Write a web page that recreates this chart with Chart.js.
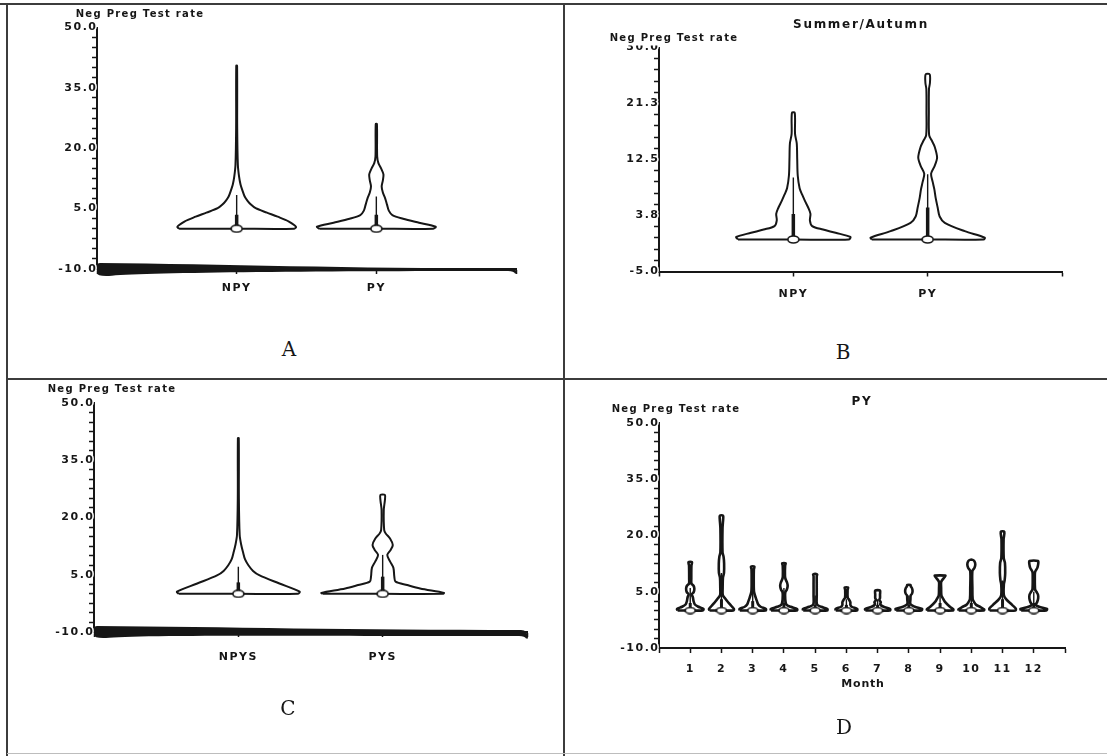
<!DOCTYPE html>
<html>
<head>
<meta charset="utf-8">
<script src="https://cdn.jsdelivr.net/npm/chart.js@4/dist/chart.umd.min.js"></script>
<style>
  html, body { margin: 0; padding: 0; background: #fff; }
  #page { position: relative; width: 1107px; height: 756px; overflow: hidden; background: #fff; }
  #page canvas { position: absolute; }
  .rule { position: absolute; background: #3c3c3c; }
  .txt { position: absolute; transform: translate(-50%, -50%); white-space: nowrap; line-height: 1;
         font-family: "DejaVu Sans", "Liberation Sans", sans-serif; font-weight: bold; color: #161616; }
  .cap { font-size: 10px; letter-spacing: 1.3px; }
  .ttl { font-size: 12px; letter-spacing: 1.7px; }
  .lab { font-size: 11px; letter-spacing: 0.8px; }
  .letter { font-family: "DejaVu Serif", "Liberation Serif", serif; font-weight: normal; font-size: 20px; }
  .mask { background: #fff; padding: 0 2px 3px 0; }
</style>
</head>
<body>
<div id="page">
  <canvas id="chartA" width="560" height="320" style="left:0;top:0"></canvas>
  <canvas id="chartB" width="540" height="320" style="left:565px;top:0"></canvas>
  <canvas id="chartC" width="560" height="320" style="left:0;top:380px"></canvas>
  <canvas id="chartD" width="540" height="330" style="left:565px;top:382px"></canvas>

  <div class="rule" style="left:0;top:3px;width:1107px;height:2px"></div>
  <div class="rule" style="left:6px;top:4px;width:2px;height:752px"></div>
  <div class="rule" style="left:563px;top:4px;width:2px;height:752px"></div>
  <div class="rule" style="left:7px;top:378px;width:1100px;height:2px"></div>
  <div class="rule" style="left:7px;top:753px;width:1100px;height:1px;background:#bdbdbd"></div>

  <div class="txt cap" style="left:140px;top:14px">Neg Preg Test rate</div>
  <div class="txt ttl" style="left:861px;top:24px">Summer/Autumn</div>
  <div class="txt cap mask" style="left:675px;top:38.5px">Neg Preg Test rate</div>
  <div class="txt cap" style="left:112px;top:389px">Neg Preg Test rate</div>
  <div class="txt ttl" style="left:862px;top:401px">PY</div>
  <div class="txt cap" style="left:676px;top:409px">Neg Preg Test rate</div>
  <div class="txt lab" style="left:863px;top:683px">Month</div>

  <div class="txt letter" style="left:289px;top:349px">A</div>
  <div class="txt letter" style="left:843px;top:352px">B</div>
  <div class="txt letter" style="left:288px;top:708px">C</div>
  <div class="txt letter" style="left:844px;top:727px">D</div>
</div>

<script>
// ---------------- data ----------------
// Violin profiles: rate levels and the relative kernel density at each level
// (1 = widest point of that violin). Box stats: median, upper quartile, upper adjacent value.

// Panel A - all years
const catsA = ['NPY', 'PY'];
const yTicksA = [-10, 5, 20, 35, 50];
const levNpyA = [0, 0.5, 1.8, 3, 4, 5.1, 6, 7, 8, 9.6, 11, 13, 15.9, 25, 40.5];
const denNpyA = [0.97, 1, 0.88, 0.69, 0.51, 0.32, 0.24, 0.18, 0.135, 0.095, 0.065, 0.04, 0.02, 0.009, 0.007];
const levPyA = [0, 0.5, 1.5, 2.5, 3.4, 4.5, 6, 7.5, 9, 10.5, 12, 13.5, 15, 16.3, 18, 26];
const denPyA = [0.96, 1, 0.72, 0.45, 0.27, 0.21, 0.18, 0.15, 0.11, 0.09, 0.11, 0.12, 0.08, 0.035, 0.014, 0.01];
const medA = [0, 0];
const q3A = [3.5, 3.5];
const hiA = [8.4, 8.0];

// Panel B - Summer/Autumn
const catsB = ['NPY', 'PY'];
const yTicksB = [-5, 3.75, 12.5, 21.25, 30];
const levNpyB = [0, 0.4, 1.05, 1.55, 2.1, 3, 4, 5, 6, 7, 8, 10, 12.5, 15, 16.5, 19.8];
const denNpyB = [0.97, 1, 0.74, 0.52, 0.33, 0.29, 0.3, 0.26, 0.205, 0.155, 0.11, 0.077, 0.068, 0.06, 0.03, 0.025];
const levPyB = [0, 0.3, 1.3, 2.6, 3.6, 5, 6.5, 7.8, 9, 10.3, 11.5, 12.8, 14.5, 15.5, 16.3, 20, 23.5, 24.5, 25.8];
const denPyB = [0.98, 1, 0.65, 0.3, 0.21, 0.175, 0.14, 0.118, 0.088, 0.06, 0.123, 0.165, 0.123, 0.07, 0.026, 0.021, 0.023, 0.04, 0.035];
const medB = [0, 0];
const q3B = [4, 5];
const hiB = [9.7, 10.2];

// Panel C - seasonal groups
const catsC = ['NPYS', 'PYS'];
const yTicksC = [-10, 5, 20, 35, 50];
const levNpyC = [0, 0.55, 2.7, 4.9, 6, 7.5, 9, 11, 13, 15.4, 25, 40.8];
const denNpyC = [0.97, 1, 0.67, 0.34, 0.24, 0.164, 0.11, 0.075, 0.045, 0.022, 0.009, 0.007];
const levPyC = [0, 0.25, 1.4, 2.3, 3.2, 4.5, 6.8, 8.5, 10.2, 11.5, 12.8, 14.5, 15.8, 16.7, 22, 24.5, 25.9];
const denPyC = [0.98, 1, 0.61, 0.4, 0.21, 0.19, 0.175, 0.12, 0.075, 0.13, 0.165, 0.12, 0.05, 0.025, 0.018, 0.036, 0.036];
const medC = [0, 0];
const q3C = [3, 4.5];
const hiC = [7.1, 10.2];

// Panel D - PY by month
const months = ['1', '2', '3', '4', '5', '6', '7', '8', '9', '10', '11', '12'];
const yTicksD = [-10, 5, 20, 35, 50];
const monthLev = [
  [0, 0.4, 1, 1.6, 2.5, 3.5, 4.3, 4.9, 5.8, 6.6, 7.2, 8.5, 12, 12.9],
  [0, 0.4, 1.2, 2.2, 3.2, 4.1, 6, 8.7, 10, 12.5, 14.3, 15.5, 22, 24.5, 25.3],
  [0, 0.4, 1, 1.6, 2.5, 3.5, 5, 8, 11, 11.7],
  [0, 0.4, 1, 1.6, 3, 4.8, 5.6, 6.5, 7.4, 8.4, 9.2, 12, 12.6],
  [0, 0.4, 1, 1.6, 4, 7, 9.2, 9.65],
  [0, 0.4, 1, 1.5, 2.2, 2.9, 3.4, 5.5, 6.1],
  [0, 0.4, 1, 1.6, 2.2, 2.8, 3.3, 4.3, 5.3],
  [0, 0.4, 1, 1.7, 3, 4, 4.5, 5.2, 5.9, 6.5, 6.8],
  [0, 0.3, 1, 2.3, 3.3, 4, 6, 7.6, 8.3, 9, 9.3],
  [0, 0.3, 0.9, 1.5, 2.3, 3.1, 6, 10.5, 11.4, 12.3, 13.1, 13.5],
  [0, 0.5, 1.5, 2.9, 4.1, 7, 8.1, 10, 12.7, 14, 19, 21],
  [0, 0.4, 1, 1.5, 2.2, 3.2, 4.2, 5, 5.6, 9, 10.3, 11.3, 12.3, 13.2]
];
const monthDen = [
  [0.95, 1, 0.62, 0.35, 0.25, 0.2, 0.12, 0.26, 0.31, 0.25, 0.09, 0.08, 0.09, 0.13],
  [0.9, 0.94, 0.75, 0.5, 0.28, 0.1, 0.09, 0.11, 0.19, 0.2, 0.16, 0.08, 0.08, 0.13, 0.12],
  [0.97, 1, 0.6, 0.42, 0.32, 0.22, 0.1, 0.08, 0.09, 0.13],
  [0.97, 1, 0.5, 0.18, 0.1, 0.1, 0.22, 0.28, 0.24, 0.12, 0.08, 0.09, 0.13],
  [0.9, 0.93, 0.45, 0.14, 0.12, 0.12, 0.12, 0.15],
  [0.8, 0.82, 0.4, 0.3, 0.3, 0.2, 0.1, 0.09, 0.13],
  [0.92, 0.95, 0.45, 0.2, 0.24, 0.13, 0.18, 0.18, 0.18],
  [0.95, 1, 0.45, 0.12, 0.12, 0.14, 0.24, 0.28, 0.24, 0.14, 0.12],
  [0.97, 1, 0.74, 0.37, 0.2, 0.1, 0.08, 0.08, 0.2, 0.36, 0.4],
  [0.95, 0.97, 0.7, 0.37, 0.2, 0.1, 0.08, 0.08, 0.24, 0.3, 0.24, 0.1],
  [0.97, 1, 0.72, 0.3, 0.1, 0.1, 0.16, 0.2, 0.18, 0.09, 0.08, 0.13],
  [0.95, 1, 0.4, 0.15, 0.25, 0.33, 0.32, 0.2, 0.1, 0.08, 0.1, 0.26, 0.33, 0.32]
];
const medD = [0, 0, 0, 0, 0, 0, 0, 0, 0, 0, 0, 0];
const q3D = [2, 3, 2.5, 2, 1.5, 1.5, 1.5, 1.5, 2, 2, 3, 2];
const hiD = [6, 10, 5, 6, 4, 3, 3, 4, 4, 4, 8, 5];

// ---------------- drawing helpers ----------------
const ink = '#161616';
const HALF = 0.425;          // half-width of a violin at density 1, in category units
const FONT = { family: '"DejaVu Sans", "Liberation Sans", sans-serif', weight: 'bold', size: 11 };

// hollow ellipse used as the median marker
function ellipseMark(w, h) {
  const c = document.createElement('canvas');
  c.width = w; c.height = h;
  const g = c.getContext('2d');
  g.beginPath();
  g.ellipse(w / 2, h / 2, w / 2 - 1, h / 2 - 1, 0, 0, Math.PI * 2);
  g.fillStyle = '#fff';
  g.fill();
  g.lineWidth = 1.6;
  g.strokeStyle = ink;
  g.stroke();
  return c;
}

// closed outline: up the left side, down the right side, flat across the bottom
function outline(center, levels, dens) {
  const left = levels.map((v, i) => ({ x: center - dens[i] * HALF, y: v }));
  const right = levels.map((v, i) => ({ x: center + dens[i] * HALF, y: v })).reverse();
  return left.concat(right, [{ x: center, y: levels[0] }, left[0]]);
}

function violinSets(center, levels, dens, med, q3, hi, look) {
  return [
    { data: outline(center, levels, dens), showLine: true, borderColor: ink, borderWidth: look.lw,
      pointRadius: 0, tension: 0.3, order: 3 },
    { data: [{ x: center, y: med }, { x: center, y: hi }], showLine: true, borderColor: ink,
      borderWidth: 1.4, pointRadius: 0, order: 2 },
    { data: [{ x: center, y: med }, { x: center, y: q3 }], showLine: true, borderColor: ink,
      borderWidth: look.iqr, pointRadius: 0, order: 1 },
    { data: [{ x: center, y: med }], showLine: false, pointStyle: look.mark, pointRadius: 5, order: 0 }
  ];
}

function yAxis(majors, sub) {
  return {
    type: 'linear',
    min: majors[0],
    max: majors[majors.length - 1],
    afterBuildTicks(scale) {
      const t = [];
      for (let i = 0; i < majors.length - 1; i++) {
        const step = (majors[i + 1] - majors[i]) / sub;
        for (let k = 0; k < sub; k++) t.push({ value: majors[i] + k * step });
      }
      t.push({ value: majors[majors.length - 1] });
      scale.ticks = t;
    },
    afterFit(scale) { scale.width = 60; },
    ticks: {
      autoSkip: false,
      padding: -5.5,
      color: ink,
      font: FONT,
      textStrokeColor: '#fff',
      textStrokeWidth: 3,
      callback: (v, i) => (i % sub === 0 ? v.toFixed(1) : '')
    },
    grid: { drawOnChartArea: false, drawTicks: true, tickLength: 5, tickColor: ink, tickWidth: 1.5, color: ink },
    border: { display: true, color: ink, width: 2 }
  };
}

function xAxis(cats, height, pad) {
  return {
    type: 'linear',
    min: 0,
    max: cats.length + 1,
    afterBuildTicks(scale) {
      const t = [];
      for (let i = 0; i <= cats.length + 1; i++) t.push({ value: i });
      scale.ticks = t;
    },
    afterFit(scale) { scale.height = height; },
    ticks: {
      autoSkip: false,
      maxRotation: 0,
      padding: pad,
      color: ink,
      font: FONT,
      callback: (v) => (v >= 1 && v <= cats.length ? cats[v - 1] : '')
    },
    grid: { drawOnChartArea: false, drawTicks: true, tickLength: 5, tickColor: ink, tickWidth: 1.5, color: ink },
    border: { display: true, color: ink, width: 2 }
  };
}

// wide tracking for the canvas tick labels
const spacing = {
  id: 'spacing',
  beforeDraw(chart, args, opts) { chart.ctx.letterSpacing = opts.value || '0px'; },
  afterDraw(chart) { chart.ctx.letterSpacing = '0px'; }
};

// heavy, tapering baseline used on the first and third panels
const wedge = {
  id: 'wedge',
  afterDraw(chart, args, o) {
    if (!o.on) return;
    const { ctx } = chart;
    const { left, right, bottom } = chart.chartArea;
    const w = right - left;
    ctx.save();
    ctx.fillStyle = ink;
    ctx.beginPath();
    ctx.moveTo(left + 3, bottom - o.tl);
    ctx.bezierCurveTo(left + w * 0.3, bottom - o.tl + 1, left + w * 0.6, bottom - o.tr, right - 6, bottom - o.tr);
    ctx.quadraticCurveTo(right + 1, bottom - o.tr, right + 1, bottom + o.br + 2.5);
    ctx.lineTo(right - 1, bottom + o.br + 2.5);
    ctx.quadraticCurveTo(right - 2, bottom + o.br, right - 8, bottom + o.br);
    ctx.bezierCurveTo(left + w * 0.5, bottom + o.br, left + 40, bottom + o.bl - 3.5, left + 12, bottom + o.bl);
    ctx.quadraticCurveTo(left, bottom + o.bl + 0.5, left, bottom + o.bl - 3);
    ctx.lineTo(left, bottom - o.tl + 3);
    ctx.quadraticCurveTo(left, bottom - o.tl, left + 3, bottom - o.tl);
    ctx.closePath();
    ctx.fill();
    ctx.restore();
  }
};

function makeChart(id, cfg) {
  return new Chart(document.getElementById(id), {
    type: 'scatter',
    data: { datasets: cfg.datasets },
    options: {
      responsive: false,
      animation: false,
      devicePixelRatio: 1,
      layout: { padding: cfg.pad },
      plugins: {
        legend: { display: false },
        tooltip: { enabled: false },
        spacing: { value: '1.5px' },
        wedge: cfg.wedge || { on: false }
      },
      scales: { x: cfg.x, y: cfg.y }
    },
    plugins: [spacing, wedge]
  });
}

const lookBig = { lw: 2, iqr: 3.5, mark: ellipseMark(13, 9) };
const lookSmall = { lw: 2.6, iqr: 3, mark: ellipseMark(12, 8) };

// Panel A
makeChart('chartA', {
  pad: { left: 37, top: 27.5, right: 44, bottom: 21 },
  datasets: [
    ...violinSets(1, levNpyA, denNpyA, medA[0], q3A[0], hiA[0], lookBig),
    ...violinSets(2, levPyA, denPyA, medA[1], q3A[1], hiA[1], lookBig)
  ],
  x: xAxis(catsA, 30, 7.4),
  y: yAxis(yTicksA, 6),
  wedge: { on: true, tl: 6, tr: 0.5, bl: 7, br: 2 }
});

// Panel B
makeChart('chartB', {
  pad: { left: 34, top: 47.5, right: 43, bottom: 18.5 },
  datasets: [
    ...violinSets(1, levNpyB, denNpyB, medB[0], q3B[0], hiB[0], lookBig),
    ...violinSets(2, levPyB, denPyB, medB[1], q3B[1], hiB[1], lookBig)
  ],
  x: xAxis(catsB, 30, 10.9),
  y: yAxis(yTicksB, 5)
});

// Panel C
makeChart('chartC', {
  pad: { left: 34, top: 23, right: 33, bottom: 28 },
  datasets: [
    ...violinSets(1, levNpyC, denNpyC, medC[0], q3C[0], hiC[0], lookBig),
    ...violinSets(2, levPyC, denPyC, medC[1], q3C[1], hiC[1], lookBig)
  ],
  x: xAxis(catsC, 40, 14),
  y: yAxis(yTicksC, 6),
  wedge: { on: true, tl: 6, tr: 2, bl: 6, br: 4 }
});

// Panel D
const setsD = [];
months.forEach((m, i) => {
  setsD.push(...violinSets(i + 1, monthLev[i], monthDen[i], medD[i], q3D[i], hiD[i], lookSmall));
});
makeChart('chartD', {
  pad: { left: 34, top: 41, right: 40, bottom: 34 },
  datasets: setsD,
  x: xAxis(months, 30, 9.4),
  y: yAxis(yTicksD, 6)
});
</script>
</body>
</html>
